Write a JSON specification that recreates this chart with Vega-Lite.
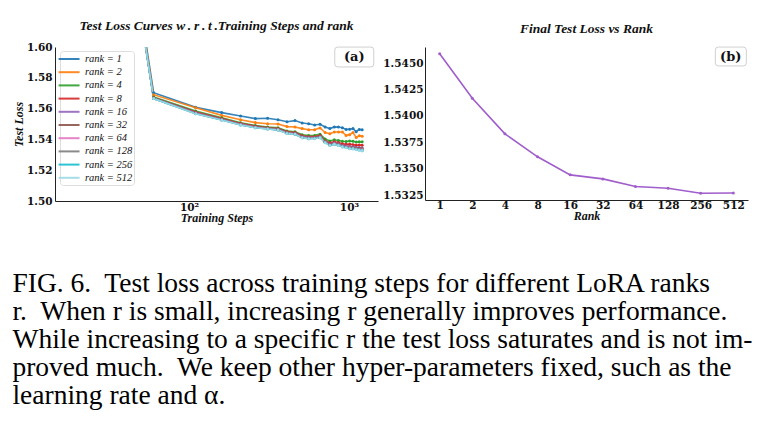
{
  "$schema": "https://vega.github.io/schema/vega-lite/v6.json",
  "background": "white",
  "padding": {"left": 12, "top": 18, "right": 5, "bottom": 5},
  "config": {
    "view": {"stroke": null},
    "font": "DejaVu Serif",
    "axis": {"grid": false, "ticks": false, "labelOverlap": false, "labelSeparation": 0, "domainColor": "#222", "domainWidth": 1, "labelFont": "DejaVu Serif", "labelFontWeight": "bold", "labelFontSize": 10.5, "labelColor": "#111", "titleFont": "Liberation Serif", "titleFontStyle": "italic", "titleFontWeight": "bold", "titleFontSize": 12, "titleColor": "#111"}
  },
  "title": {
    "text": [
      "FIG. 6.\u00a0 Test loss across training steps for different LoRA ranks",
      "r.\u00a0 When r is small, increasing r generally improves performance.",
      "While increasing to a specific r the test loss saturates and is not im-",
      "proved much.\u00a0 We keep other hyper-parameters fixed, such as the",
      "learning rate and α."
    ],
    "orient": "bottom", "anchor": "start", "frame": "bounds",
    "font": "Liberation Serif", "fontSize": 27.5, "fontWeight": "normal", "fontStyle": "normal",
    "lineHeight": 28, "offset": 46, "color": "#000", "dx": 0
  },
  "bounds": "flush",
  "spacing": 47,
  "datasets": {
    "curves": [
      {"step":10,"rank":1,"loss":2.095},{"step":60,"rank":1,"loss":1.5703},{"step":110,"rank":1,"loss":1.5608},{"step":160,"rank":1,"loss":1.5574},{"step":210,"rank":1,"loss":1.5552},{"step":260,"rank":1,"loss":1.5535},{"step":310,"rank":1,"loss":1.5537},{"step":360,"rank":1,"loss":1.5528},{"step":410,"rank":1,"loss":1.5515},{"step":460,"rank":1,"loss":1.5522},{"step":510,"rank":1,"loss":1.5506},{"step":560,"rank":1,"loss":1.5502},{"step":610,"rank":1,"loss":1.5494},{"step":660,"rank":1,"loss":1.5498},{"step":710,"rank":1,"loss":1.5481},{"step":760,"rank":1,"loss":1.547},{"step":810,"rank":1,"loss":1.5481},{"step":860,"rank":1,"loss":1.548},{"step":910,"rank":1,"loss":1.5476},{"step":960,"rank":1,"loss":1.5465},{"step":1010,"rank":1,"loss":1.5466},{"step":1060,"rank":1,"loss":1.547},{"step":1110,"rank":1,"loss":1.545},{"step":1160,"rank":1,"loss":1.5465},{"step":1210,"rank":1,"loss":1.5462},
      {"step":10,"rank":2,"loss":2.092},{"step":60,"rank":2,"loss":1.569},{"step":110,"rank":2,"loss":1.5605},{"step":160,"rank":2,"loss":1.5556},{"step":210,"rank":2,"loss":1.5528},{"step":260,"rank":2,"loss":1.5509},{"step":310,"rank":2,"loss":1.5502},{"step":360,"rank":2,"loss":1.55},{"step":410,"rank":2,"loss":1.5483},{"step":460,"rank":2,"loss":1.5481},{"step":510,"rank":2,"loss":1.547},{"step":560,"rank":2,"loss":1.5463},{"step":610,"rank":2,"loss":1.5463},{"step":660,"rank":2,"loss":1.5474},{"step":710,"rank":2,"loss":1.5444},{"step":760,"rank":2,"loss":1.5437},{"step":810,"rank":2,"loss":1.5448},{"step":860,"rank":2,"loss":1.5448},{"step":910,"rank":2,"loss":1.5448},{"step":960,"rank":2,"loss":1.5426},{"step":1010,"rank":2,"loss":1.5431},{"step":1060,"rank":2,"loss":1.5444},{"step":1110,"rank":2,"loss":1.5413},{"step":1160,"rank":2,"loss":1.5424},{"step":1210,"rank":2,"loss":1.542},
      {"step":10,"rank":4,"loss":2.09},{"step":60,"rank":4,"loss":1.5675},{"step":110,"rank":4,"loss":1.5585},{"step":160,"rank":4,"loss":1.554},{"step":210,"rank":4,"loss":1.5508},{"step":260,"rank":4,"loss":1.549},{"step":310,"rank":4,"loss":1.548},{"step":360,"rank":4,"loss":1.5476},{"step":410,"rank":4,"loss":1.5455},{"step":460,"rank":4,"loss":1.545},{"step":510,"rank":4,"loss":1.543},{"step":560,"rank":4,"loss":1.5425},{"step":610,"rank":4,"loss":1.5426},{"step":660,"rank":4,"loss":1.5434},{"step":710,"rank":4,"loss":1.5402},{"step":760,"rank":4,"loss":1.539},{"step":810,"rank":4,"loss":1.5398},{"step":860,"rank":4,"loss":1.5393},{"step":910,"rank":4,"loss":1.5388},{"step":960,"rank":4,"loss":1.5386},{"step":1010,"rank":4,"loss":1.539},{"step":1060,"rank":4,"loss":1.5388},{"step":1110,"rank":4,"loss":1.5383},{"step":1160,"rank":4,"loss":1.5385},{"step":1210,"rank":4,"loss":1.5384},
      {"step":10,"rank":8,"loss":2.09},{"step":60,"rank":8,"loss":1.567},{"step":110,"rank":8,"loss":1.5578},{"step":160,"rank":8,"loss":1.5535},{"step":210,"rank":8,"loss":1.5503},{"step":260,"rank":8,"loss":1.5486},{"step":310,"rank":8,"loss":1.5476},{"step":360,"rank":8,"loss":1.547},{"step":410,"rank":8,"loss":1.545},{"step":460,"rank":8,"loss":1.5444},{"step":510,"rank":8,"loss":1.5424},{"step":560,"rank":8,"loss":1.5418},{"step":610,"rank":8,"loss":1.5418},{"step":660,"rank":8,"loss":1.5426},{"step":710,"rank":8,"loss":1.5392},{"step":760,"rank":8,"loss":1.5378},{"step":810,"rank":8,"loss":1.5385},{"step":860,"rank":8,"loss":1.538},{"step":910,"rank":8,"loss":1.5372},{"step":960,"rank":8,"loss":1.5368},{"step":1010,"rank":8,"loss":1.5368},{"step":1060,"rank":8,"loss":1.5366},{"step":1110,"rank":8,"loss":1.5362},{"step":1160,"rank":8,"loss":1.5364},{"step":1210,"rank":8,"loss":1.5362},
      {"step":10,"rank":16,"loss":2.09},{"step":60,"rank":16,"loss":1.5668},{"step":110,"rank":16,"loss":1.5573},{"step":160,"rank":16,"loss":1.5531},{"step":210,"rank":16,"loss":1.5499},{"step":260,"rank":16,"loss":1.5481},{"step":310,"rank":16,"loss":1.5472},{"step":360,"rank":16,"loss":1.5466},{"step":410,"rank":16,"loss":1.5445},{"step":460,"rank":16,"loss":1.5439},{"step":510,"rank":16,"loss":1.5418},{"step":560,"rank":16,"loss":1.5412},{"step":610,"rank":16,"loss":1.5412},{"step":660,"rank":16,"loss":1.5419},{"step":710,"rank":16,"loss":1.5386},{"step":760,"rank":16,"loss":1.537},{"step":810,"rank":16,"loss":1.5377},{"step":860,"rank":16,"loss":1.5371},{"step":910,"rank":16,"loss":1.5362},{"step":960,"rank":16,"loss":1.5357},{"step":1010,"rank":16,"loss":1.5354},{"step":1060,"rank":16,"loss":1.5352},{"step":1110,"rank":16,"loss":1.5348},{"step":1160,"rank":16,"loss":1.5347},{"step":1210,"rank":16,"loss":1.5344},
      {"step":10,"rank":32,"loss":2.09},{"step":60,"rank":32,"loss":1.5667},{"step":110,"rank":32,"loss":1.5571},{"step":160,"rank":32,"loss":1.5529},{"step":210,"rank":32,"loss":1.5497},{"step":260,"rank":32,"loss":1.548},{"step":310,"rank":32,"loss":1.5471},{"step":360,"rank":32,"loss":1.5464},{"step":410,"rank":32,"loss":1.5443},{"step":460,"rank":32,"loss":1.5437},{"step":510,"rank":32,"loss":1.5416},{"step":560,"rank":32,"loss":1.541},{"step":610,"rank":32,"loss":1.541},{"step":660,"rank":32,"loss":1.5417},{"step":710,"rank":32,"loss":1.5384},{"step":760,"rank":32,"loss":1.5367},{"step":810,"rank":32,"loss":1.5374},{"step":860,"rank":32,"loss":1.5368},{"step":910,"rank":32,"loss":1.5359},{"step":960,"rank":32,"loss":1.5354},{"step":1010,"rank":32,"loss":1.5351},{"step":1060,"rank":32,"loss":1.5349},{"step":1110,"rank":32,"loss":1.5344},{"step":1160,"rank":32,"loss":1.5343},{"step":1210,"rank":32,"loss":1.534},
      {"step":10,"rank":64,"loss":2.09},{"step":60,"rank":64,"loss":1.5666},{"step":110,"rank":64,"loss":1.5569},{"step":160,"rank":64,"loss":1.5528},{"step":210,"rank":64,"loss":1.5496},{"step":260,"rank":64,"loss":1.5478},{"step":310,"rank":64,"loss":1.5469},{"step":360,"rank":64,"loss":1.5463},{"step":410,"rank":64,"loss":1.5441},{"step":460,"rank":64,"loss":1.5435},{"step":510,"rank":64,"loss":1.5413},{"step":560,"rank":64,"loss":1.5407},{"step":610,"rank":64,"loss":1.5407},{"step":660,"rank":64,"loss":1.5414},{"step":710,"rank":64,"loss":1.5381},{"step":760,"rank":64,"loss":1.5364},{"step":810,"rank":64,"loss":1.5371},{"step":860,"rank":64,"loss":1.5364},{"step":910,"rank":64,"loss":1.5355},{"step":960,"rank":64,"loss":1.535},{"step":1010,"rank":64,"loss":1.5345},{"step":1060,"rank":64,"loss":1.5344},{"step":1110,"rank":64,"loss":1.5338},{"step":1160,"rank":64,"loss":1.5336},{"step":1210,"rank":64,"loss":1.5333},
      {"step":10,"rank":128,"loss":2.09},{"step":60,"rank":128,"loss":1.5665},{"step":110,"rank":128,"loss":1.5568},{"step":160,"rank":128,"loss":1.5527},{"step":210,"rank":128,"loss":1.5495},{"step":260,"rank":128,"loss":1.5477},{"step":310,"rank":128,"loss":1.5469},{"step":360,"rank":128,"loss":1.5462},{"step":410,"rank":128,"loss":1.544},{"step":460,"rank":128,"loss":1.5434},{"step":510,"rank":128,"loss":1.5413},{"step":560,"rank":128,"loss":1.5406},{"step":610,"rank":128,"loss":1.5407},{"step":660,"rank":128,"loss":1.5413},{"step":710,"rank":128,"loss":1.5381},{"step":760,"rank":128,"loss":1.5363},{"step":810,"rank":128,"loss":1.537},{"step":860,"rank":128,"loss":1.5363},{"step":910,"rank":128,"loss":1.5353},{"step":960,"rank":128,"loss":1.5349},{"step":1010,"rank":128,"loss":1.5343},{"step":1060,"rank":128,"loss":1.5342},{"step":1110,"rank":128,"loss":1.5337},{"step":1160,"rank":128,"loss":1.5334},{"step":1210,"rank":128,"loss":1.5331},
      {"step":10,"rank":256,"loss":2.09},{"step":60,"rank":256,"loss":1.5665},{"step":110,"rank":256,"loss":1.5567},{"step":160,"rank":256,"loss":1.5526},{"step":210,"rank":256,"loss":1.5494},{"step":260,"rank":256,"loss":1.5476},{"step":310,"rank":256,"loss":1.5468},{"step":360,"rank":256,"loss":1.5461},{"step":410,"rank":256,"loss":1.5439},{"step":460,"rank":256,"loss":1.5434},{"step":510,"rank":256,"loss":1.5411},{"step":560,"rank":256,"loss":1.5405},{"step":610,"rank":256,"loss":1.5406},{"step":660,"rank":256,"loss":1.5411},{"step":710,"rank":256,"loss":1.538},{"step":760,"rank":256,"loss":1.5362},{"step":810,"rank":256,"loss":1.5368},{"step":860,"rank":256,"loss":1.5362},{"step":910,"rank":256,"loss":1.5352},{"step":960,"rank":256,"loss":1.5347},{"step":1010,"rank":256,"loss":1.5341},{"step":1060,"rank":256,"loss":1.534},{"step":1110,"rank":256,"loss":1.5334},{"step":1160,"rank":256,"loss":1.5331},{"step":1210,"rank":256,"loss":1.5327},
      {"step":10,"rank":512,"loss":2.09},{"step":60,"rank":512,"loss":1.5665},{"step":110,"rank":512,"loss":1.5567},{"step":160,"rank":512,"loss":1.5526},{"step":210,"rank":512,"loss":1.5494},{"step":260,"rank":512,"loss":1.5476},{"step":310,"rank":512,"loss":1.5468},{"step":360,"rank":512,"loss":1.5461},{"step":410,"rank":512,"loss":1.5439},{"step":460,"rank":512,"loss":1.5433},{"step":510,"rank":512,"loss":1.5411},{"step":560,"rank":512,"loss":1.5405},{"step":610,"rank":512,"loss":1.5405},{"step":660,"rank":512,"loss":1.5411},{"step":710,"rank":512,"loss":1.5379},{"step":760,"rank":512,"loss":1.5361},{"step":810,"rank":512,"loss":1.5368},{"step":860,"rank":512,"loss":1.5361},{"step":910,"rank":512,"loss":1.5351},{"step":960,"rank":512,"loss":1.5346},{"step":1010,"rank":512,"loss":1.534},{"step":1060,"rank":512,"loss":1.5339},{"step":1110,"rank":512,"loss":1.5333},{"step":1160,"rank":512,"loss":1.533},{"step":1210,"rank":512,"loss":1.5328}
    ],
    "final": [
      {"rank":1,"loss":1.54588},{"rank":2,"loss":1.54166},{"rank":4,"loss":1.5383},{"rank":8,"loss":1.53612},{"rank":16,"loss":1.53441},{"rank":32,"loss":1.53403},{"rank":64,"loss":1.53331},{"rank":128,"loss":1.53314},{"rank":256,"loss":1.53267},{"rank":512,"loss":1.5327}
    ]
  },
  "hconcat": [
    {
      "width": 323, "height": 154,
      "title": {"text": "Test Loss Curves w\u2009.\u2009r\u2009.\u2009t\u2009.Training Steps and rank", "font": "Liberation Serif", "fontStyle": "italic", "fontWeight": "bold", "fontSize": 13.5, "offset": 10, "color": "#111"},
      "layer": [
        {
          "data": {"name": "curves"},
          "mark": {"type": "line", "clip": true, "strokeWidth": 1.6, "opacity": 0.9, "point": {"filled": true, "size": 9, "clip": true}},
          "encoding": {
            "x": {"field": "step", "type": "quantitative", "scale": {"type": "log", "domain": [14.5, 1520], "nice": false}, "axis": {"values": [100, 1000], "tickCount": 20, "labelExpr": "datum.value == 100 ? '10²' : '10³'", "labelPadding": 1, "titlePadding": 0, "labelOverlap": false}, "title": "Training Steps"},
            "y": {"field": "loss", "type": "quantitative", "scale": {"domain": [1.5, 1.6], "nice": false, "zero": false}, "axis": {"values": [1.5, 1.52, 1.54, 1.56, 1.58, 1.6], "tickCount": 20, "format": ".2f", "labelPadding": 3, "titlePadding": 1, "labelOverlap": false, "labelBound": false, "labelFlush": false}, "title": "Test Loss"},
            "color": {"field": "rank", "type": "nominal", "scale": {"domain": [1, 2, 4, 8, 16, 32, 64, 128, 256, 512], "range": ["#1f77b4", "#ff7f0e", "#2ca02c", "#d62728", "#9467bd", "#8c564b", "#e377c2", "#7f7f7f", "#17becf", "#9edae5"]},
              "legend": {"orient": "none", "legendX": 5, "legendY": 4, "title": null, "labelExpr": "'rank = ' + datum.label", "labelFont": "Liberation Serif", "labelFontStyle": "italic", "labelFontSize": 10.5, "labelColor": "#111", "symbolType": "M-1.8,0H2.2", "symbolSize": 110, "symbolStrokeWidth": 2, "strokeColor": "#ddd", "fillColor": "white", "cornerRadius": 3, "padding": 1.5, "rowPadding": 1.2, "labelOffset": 10.5}}
          }
        },
        {
          "data": {"values": [{"label": "(a)", "step": 1080, "loss": 1.5935}]},
          "mark": {"type": "point", "shape": "M-0.85,-0.51H0.85Q1,-0.51 1,-0.36V0.36Q1,0.51 0.85,0.51H-0.85Q-1,0.51 -1,0.36V-0.36Q-1,-0.51 -0.85,-0.51Z", "size": 1521, "filled": false, "fill": "white", "fillOpacity": 0.9, "stroke": "#d0d0d0", "strokeWidth": 1, "opacity": 1},
          "encoding": {"x": {"field": "step", "type": "quantitative"}, "y": {"field": "loss", "type": "quantitative"}}
        },
        {
          "data": {"values": [{"label": "(a)", "step": 1080, "loss": 1.5935}]},
          "mark": {"type": "text", "font": "DejaVu Serif", "fontWeight": "bold", "fontSize": 13, "color": "#111", "baseline": "middle", "align": "center"},
          "encoding": {"x": {"field": "step", "type": "quantitative"}, "y": {"field": "loss", "type": "quantitative"}, "text": {"field": "label"}}
        }
      ]
    },
    {
      "width": 323, "height": 153,
      "title": {"text": "Final Test Loss vs Rank", "font": "Liberation Serif", "fontStyle": "italic", "fontWeight": "bold", "fontSize": 13.5, "offset": 10, "color": "#111"},
      "layer": [
        {
          "data": {"name": "final"},
          "mark": {"type": "line", "color": "#a05dcc", "strokeWidth": 1.6, "point": {"filled": true, "size": 9, "color": "#a05dcc"}},
          "encoding": {
            "x": {"field": "rank", "type": "ordinal", "scale": {"type": "point", "padding": 0.45}, "axis": {"labelAngle": 0, "labelPadding": 0, "titlePadding": 0, "labelOverlap": false}, "title": "Rank"},
            "y": {"field": "loss", "type": "quantitative", "scale": {"domain": [1.53203, 1.54652], "nice": false, "zero": false}, "axis": {"values": [1.5325, 1.535, 1.5375, 1.54, 1.5425, 1.545], "tickCount": 20, "format": ".4f", "labelPadding": 2, "labelOverlap": false, "labelBound": false, "labelFlush": false}, "title": null}
          }
        },
        {
          "data": {"values": [{"label": "(b)", "rank": 512, "loss": 1.54562}]},
          "mark": {"type": "point", "xOffset": -2.5, "shape": "M-0.8,-0.61H0.8Q1,-0.61 1,-0.41V0.41Q1,0.61 0.8,0.61H-0.8Q-1,0.61 -1,0.41V-0.41Q-1,-0.61 -0.8,-0.61Z", "size": 961, "filled": false, "fill": "white", "fillOpacity": 0.9, "stroke": "#d0d0d0", "strokeWidth": 1, "opacity": 1},
          "encoding": {"x": {"field": "rank", "type": "ordinal"}, "y": {"field": "loss", "type": "quantitative"}}
        },
        {
          "data": {"values": [{"label": "(b)", "rank": 512, "loss": 1.54562}]},
          "mark": {"type": "text", "xOffset": -2.5, "font": "DejaVu Serif", "fontWeight": "bold", "fontSize": 13, "color": "#111", "baseline": "middle", "align": "center"},
          "encoding": {"x": {"field": "rank", "type": "ordinal"}, "y": {"field": "loss", "type": "quantitative"}, "text": {"field": "label"}}
        }
      ]
    }
  ]
}
